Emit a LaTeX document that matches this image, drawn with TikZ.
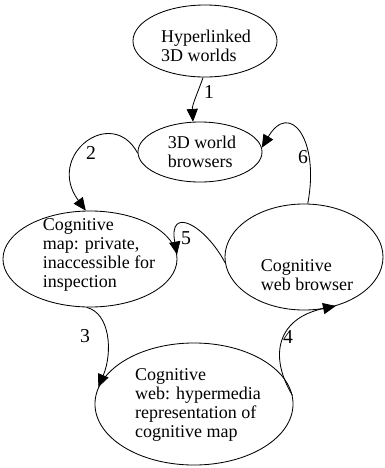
\documentclass[tikz,border=0pt]{standalone}
\usepackage{fontspec}
\setmainfont{Liberation Serif}
\usetikzlibrary{shapes.geometric,arrows.meta}

\begin{document}
\begin{tikzpicture}[x=0.025cm, y=0.025cm]
\tikzset{ovale/.style={draw, ellipse, inner sep=0pt, line width=0.6pt},
  texte/.style={align=left, inner sep=0pt, font=\fontsize{12.8}{13.6}\selectfont},
  numero/.style={inner sep=0pt, font=\fontsize{14}{14}\selectfont},
  fleche/.style={line width=0.6pt, -{Triangle[length=0.32cm, width=0.28cm]}}}
\useasboundingbox (0,0) rectangle (385,-468);
\node[ovale, minimum width=3.6cm, minimum height=1.8cm] (HW) at (205,-41) {};
\node[ovale, minimum width=3.1cm, minimum height=1.5cm] (WB) at (200,-152) {};
\node[ovale, minimum width=4.35cm, minimum height=2.4cm] (CM) at (90,-259) {};
\node[ovale, minimum width=3.95cm, minimum height=2.65cm] (CB) at (304,-257) {};
\node[ovale, minimum width=4.95cm, minimum height=3.05cm] (CW) at (194,-404) {};
\node[texte] (THW) at (206,-46) {Hyperlinked\\3D worlds};
\node[texte] (TWB) at (202,-152) {3D world\\browsers};
\node[texte] (TCM) at (99,-255) {Cognitive\\map: private,\\inaccessible for\\inspection};
\node[texte] (TCB) at (307,-275) {Cognitive\\web browser};
\node[texte] (TCW) at (198,-405) {Cognitive\\web: hypermedia\\representation of\\cognitive map};
\node[numero] (L1) at (209,-92) {1};
\node[numero] (L2) at (91,-153) {2};
\node[numero] (L3) at (85,-336) {3};
\node[numero] (L4) at (288,-337) {4};
\node[numero] (L5) at (186,-238) {5};
\node[numero] (L6) at (303,-157) {6};
\draw[fleche] (HW.267) .. controls (198,-92) and (192,-105) .. (WB.103);
\draw[fleche] (WB.181) .. controls (112,-105) and (45,-155) .. (CM.95);
\draw[fleche] (CM.266) .. controls (110,-313) and (113,-352) .. (CW.170);
\draw[fleche] (CW.5) .. controls (268,-355) and (278,-318) .. (CB.303);
\draw[fleche] (CB.184) .. controls (205,-225) and (168,-205) .. (CM.3);
\draw[fleche] (CB.86) .. controls (320,-140) and (290,-100) .. (WB.4);
\end{tikzpicture}
\end{document}
